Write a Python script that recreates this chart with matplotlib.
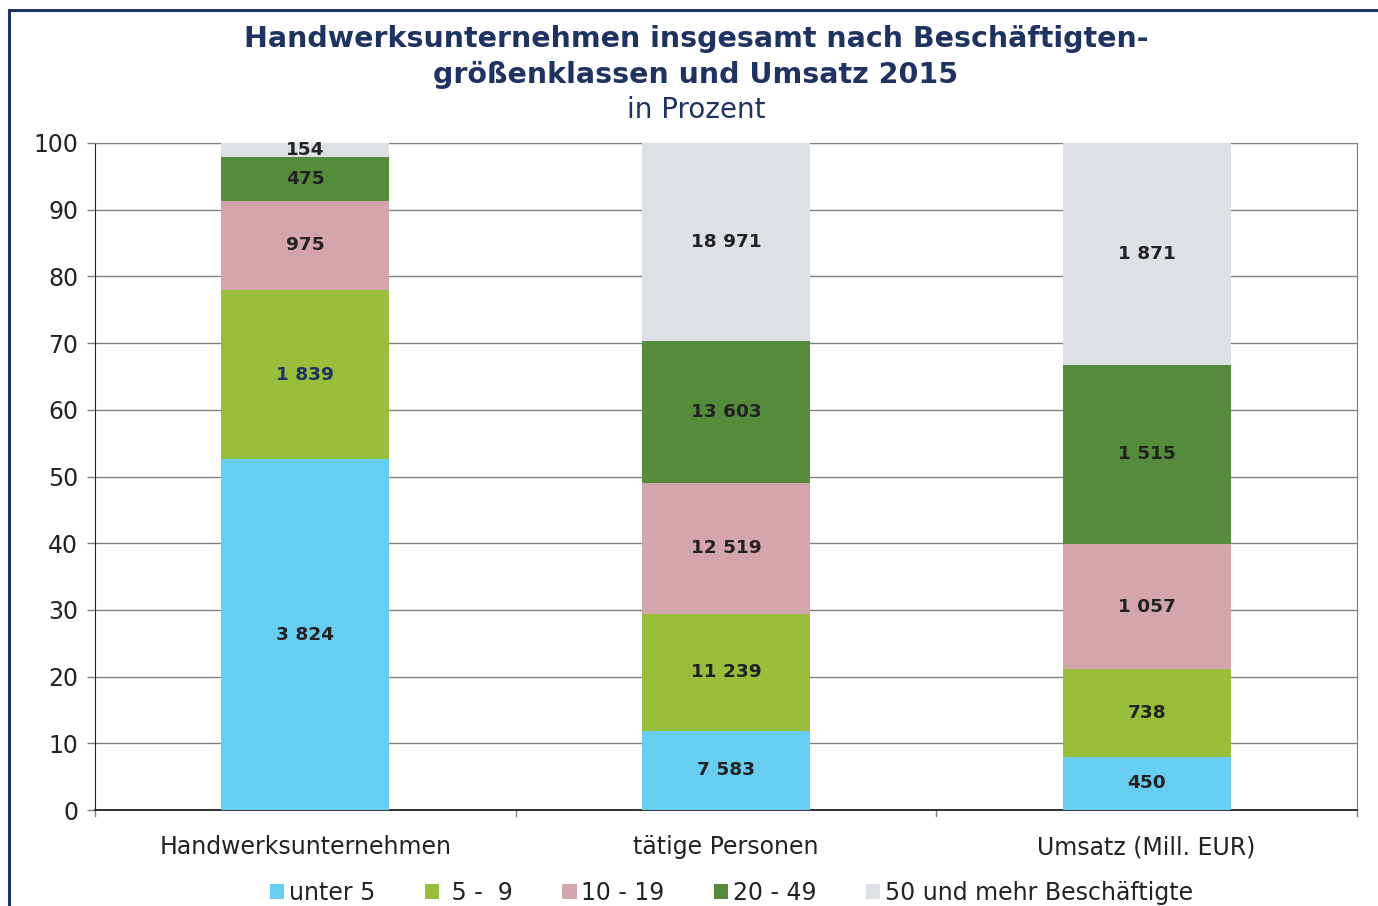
import matplotlib.pyplot as plt
from matplotlib.patches import Rectangle

# Daten: absolute Werte je Beschäftigtengrößenklasse
kategorien = ["Handwerksunternehmen", "tätige Personen", "Umsatz (Mill. EUR)"]
klassen = ["unter 5", " 5 -  9", "10 - 19", "20 - 49", "50 und mehr Beschäftigte"]
unter5 = [3824, 7583, 450]
k5_9 = [1839, 11239, 738]
k10_19 = [975, 12519, 1057]
k20_49 = [475, 13603, 1515]
k50_mehr = [154, 18971, 1871]

farben = ["#67CDF1", "#99BE3B", "#D5A5AE", "#558C3C", "#DDE0E4"]
dunkelblau = "#1F3362"

werte = [unter5, k5_9, k10_19, k20_49, k50_mehr]
summen = [sum(w[i] for w in werte) for i in range(len(kategorien))]

def fmt(z):
    # Tausendertrennzeichen als Leerzeichen
    return f"{z:,}".replace(",", " ")

fig = plt.figure(figsize=(13.78, 9.06), dpi=100)
ax = fig.add_axes([95 / 1378, 1 - 810 / 906, (1357 - 95) / 1378, (810 - 143) / 906])

x = range(len(kategorien))
unten = [0.0] * len(kategorien)
for k, serie in enumerate(werte):
    proz = [serie[i] / summen[i] * 100 for i in range(len(kategorien))]
    ax.bar(x, proz, width=0.4, bottom=unten, color=farben[k], label=klassen[k], zorder=3)
    for i in x:
        txtfarbe = dunkelblau if (k == 1 and i == 0) else "#222222"
        ax.text(i, unten[i] + proz[i] / 2, fmt(serie[i]), ha="center", va="center",
                fontsize=13.3, fontweight="bold", color=txtfarbe, zorder=4)
    unten = [unten[i] + proz[i] for i in x]

ax.set_xlim(-0.5, 2.5)
ax.set_ylim(0, 100)
ax.set_yticks(range(0, 101, 10))
ax.yaxis.grid(True, color="#808080", linewidth=1, zorder=0)
ax.set_xticks(list(x))
ax.set_xticklabels(kategorien, fontsize=17, color="#222222")
ax.tick_params(axis="x", length=0, pad=18)
ax.tick_params(axis="y", labelsize=17, colors="#222222", length=6, width=1, color="#808080", pad=6)
# Trennstriche zwischen den Kategorien
for xb in [-0.5, 0.5, 1.5, 2.5]:
    ax.plot([xb, xb], [0, -0.9], color="#808080", lw=1, clip_on=False)

ax.spines["left"].set_color("#222222")
ax.spines["bottom"].set_color("#222222")
ax.spines["bottom"].set_linewidth(1.3)
ax.spines["right"].set_color("#808080")
ax.spines["top"].set_color("#808080")

fig.text(0.505, 1 - 39 / 906, "Handwerksunternehmen insgesamt nach Beschäftigten-",
         ha="center", va="center", fontsize=20.5, fontweight="bold", color=dunkelblau)
fig.text(0.505, 1 - 75 / 906, "größenklassen und Umsatz 2015",
         ha="center", va="center", fontsize=20.5, fontweight="bold", color=dunkelblau)
fig.text(0.505, 1 - 110 / 906, "in Prozent", ha="center", va="center",
         fontsize=20, color=dunkelblau)

fig.legend(loc="center", bbox_to_anchor=(0.531, 1 - 893 / 906), ncol=5, frameon=False,
           fontsize=17, handlelength=0.6, handleheight=0.6, handletextpad=0.2,
           columnspacing=2.1, labelcolor="#222222")

# Rahmen um die Grafik
fig.patches.append(Rectangle((9 / 1378, -0.05), 1.2, 1 - 10 / 906 + 0.05, transform=fig.transFigure,
                             fill=False, edgecolor=dunkelblau, linewidth=2.2))

fig.savefig("out.png", dpi=100)
